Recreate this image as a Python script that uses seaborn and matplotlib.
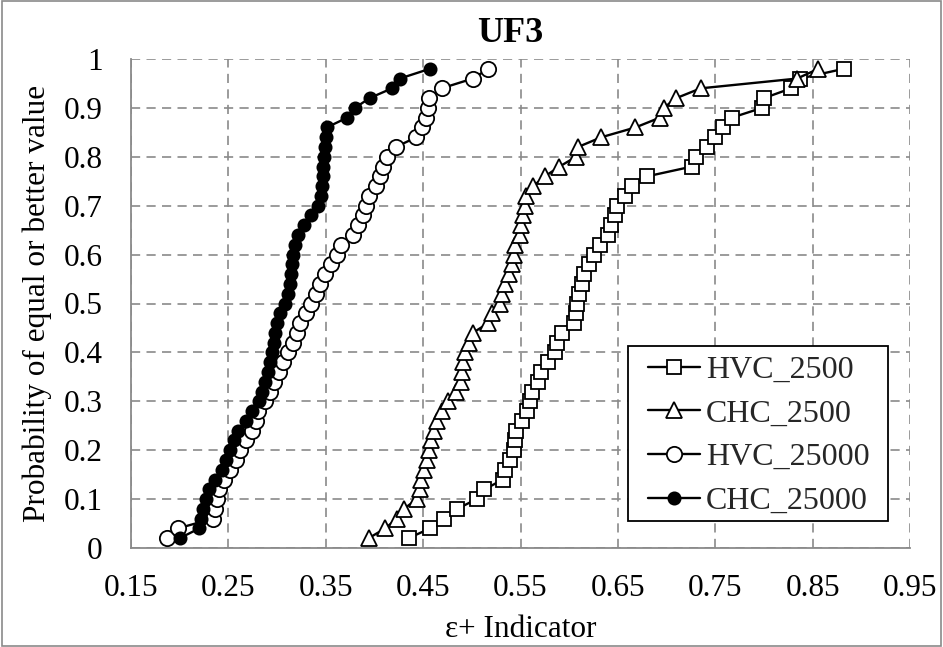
import numpy as np
import pandas as pd
import matplotlib
matplotlib.use("Agg")
import matplotlib.pyplot as plt
import seaborn as sns
from matplotlib.patches import Rectangle

# ---- data ----
prob = [round(0.02 * k, 2) for k in range(1, 50)]

hvc_2500 = [0.435, 0.457, 0.471, 0.485, 0.505, 0.513, 0.532, 0.534, 0.539, 0.543,
            0.544, 0.545, 0.552, 0.557, 0.560, 0.562, 0.568, 0.571, 0.578, 0.585,
            0.587, 0.593, 0.605, 0.607, 0.608, 0.610, 0.613, 0.615, 0.620, 0.625,
            0.632, 0.640, 0.643, 0.647, 0.649, 0.657, 0.664, 0.680, 0.726, 0.730,
            0.742, 0.750, 0.758, 0.767, 0.798, 0.800, 0.828, 0.837, 0.882]

chc_2500 = [0.394, 0.411, 0.423, 0.430, 0.444, 0.447, 0.448, 0.451, 0.454, 0.456,
            0.458, 0.461, 0.464, 0.469, 0.476, 0.484, 0.489, 0.490, 0.491, 0.493,
            0.497, 0.501, 0.517, 0.521, 0.529, 0.531, 0.534, 0.538, 0.541, 0.543,
            0.544, 0.549, 0.551, 0.553, 0.555, 0.556, 0.563, 0.575, 0.590, 0.607,
            0.609, 0.633, 0.668, 0.693, 0.697, 0.710, 0.735, 0.834, 0.856]

hvc_25000 = [0.187, 0.198, 0.234, 0.236, 0.238, 0.240, 0.246, 0.252, 0.258, 0.262,
             0.268, 0.274, 0.278, 0.280, 0.288, 0.293, 0.297, 0.302, 0.306, 0.311,
             0.316, 0.320, 0.324, 0.330, 0.335, 0.340, 0.344, 0.349, 0.355, 0.362,
             0.366, 0.378, 0.383, 0.388, 0.391, 0.394, 0.402, 0.406, 0.409, 0.413,
             0.422, 0.443, 0.449, 0.453, 0.455, 0.456, 0.469, 0.501, 0.517]

chc_25000 = [0.200, 0.220, 0.222, 0.224, 0.227, 0.230, 0.236, 0.243, 0.248, 0.252,
             0.256, 0.260, 0.268, 0.274, 0.281, 0.285, 0.288, 0.291, 0.293, 0.295,
             0.297, 0.298, 0.300, 0.303, 0.308, 0.311, 0.313, 0.314, 0.315, 0.316,
             0.318, 0.322, 0.328, 0.335, 0.342, 0.345, 0.346, 0.347, 0.347, 0.348,
             0.349, 0.350, 0.351, 0.372, 0.380, 0.395, 0.418, 0.426, 0.457]

series_names = ["HVC_2500", "CHC_2500", "HVC_25000", "CHC_25000"]
series_values = [hvc_2500, chc_2500, hvc_25000, chc_25000]

x_ticks = [0.15, 0.25, 0.35, 0.45, 0.55, 0.65, 0.75, 0.85, 0.95]
x_tick_labels = ["0.15", "0.25", "0.35", "0.45", "0.55", "0.65", "0.75", "0.85", "0.95"]
y_ticks = [0, 0.1, 0.2, 0.3, 0.4, 0.5, 0.6, 0.7, 0.8, 0.9, 1.0]
y_tick_labels = ["0", "0.1", "0.2", "0.3", "0.4", "0.5", "0.6", "0.7", "0.8", "0.9", "1"]

title = "UF3"
x_label = "ε+ Indicator"
y_label = "Probability of equal or better value"

# ---- style ----
sns.set_theme(style="white")
plt.rcParams["font.family"] = ["Liberation Serif", "DejaVu Serif"]

GRID = "#8a8a8a"
FS = 22.5

fig = plt.figure(figsize=(9.43, 6.47), dpi=100)
ax = fig.add_axes([131 / 943, 1 - 548 / 647, 779 / 943, 489 / 647])

styles = {
    "HVC_2500": dict(marker="s", markersize=9.5, markerfacecolor="white"),
    "CHC_2500": dict(marker="^", markersize=11.5, markerfacecolor="white"),
    "HVC_25000": dict(marker="o", markersize=11, markerfacecolor="white"),
    "CHC_25000": dict(marker="o", markersize=8.8, markerfacecolor="black"),
}

frames = []
for name, vals in zip(series_names, series_values):
    frames.append(pd.DataFrame({"x": vals, "y": prob, "series": name}))
df = pd.concat(frames, ignore_index=True)

for i, name in enumerate(series_names):
    sub = df[df["series"] == name]
    sns.lineplot(data=sub, x="x", y="y", ax=ax, sort=False, estimator=None,
                 color="black", linewidth=1.7, markeredgecolor="black",
                 markeredgewidth=1.3, label=name, clip_on=False, zorder=3 + i,
                 **styles[name])

ax.set_xlim(0.15, 0.95)
ax.set_ylim(0, 1)
ax.set_xticks(x_ticks)
ax.set_xticklabels(x_tick_labels)
ax.set_yticks(y_ticks)
ax.set_yticklabels(y_tick_labels)

ax.grid(True, color=GRID, linestyle=(0, (5.5, 3.8)), linewidth=1.2)
ax.set_axisbelow(True)
for side in ["top", "right"]:
    ax.spines[side].set_visible(False)
for side in ["left", "bottom"]:
    ax.spines[side].set_color(GRID)
    ax.spines[side].set_linewidth(1.3)

ax.tick_params(axis="both", which="major", direction="out", length=6.5,
               width=1.3, color=GRID, labelsize=FS, labelcolor="black")
ax.tick_params(axis="x", pad=12)
ax.tick_params(axis="y", pad=14)

ax.set_xlabel(x_label, fontsize=FS, color="black", labelpad=9)
ax.set_ylabel(y_label, fontsize=FS, color="black", labelpad=8)

fig.text(510 / 943, 1 - 33 / 647, title, ha="center", va="center",
         fontsize=26, fontweight="bold", color="black")

# legend frame drawn as its own box, entries placed inside
ax.add_patch(Rectangle((0.638, 0.0552), 0.334, 0.358, transform=ax.transAxes,
                       facecolor="white", edgecolor="black", linewidth=1.3,
                       zorder=20, clip_on=False))
leg = ax.legend(loc="upper left", bbox_to_anchor=(0.6637, 0.394),
                fontsize=23, frameon=False, handlelength=1.63, handletextpad=0.19,
                labelspacing=0.45, borderpad=0, borderaxespad=0)
leg.set_zorder(21)

fig.patches.append(Rectangle((0.002, 0.002), 0.996, 0.996, transform=fig.transFigure,
                             fill=False, edgecolor=GRID, linewidth=1.2))

fig.savefig("out.png", dpi=100)
